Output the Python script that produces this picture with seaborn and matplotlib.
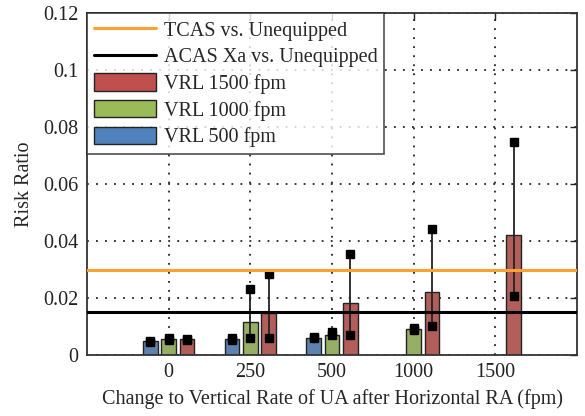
import numpy as np
import pandas as pd
import matplotlib
matplotlib.use("Agg")
import matplotlib.pyplot as plt
import seaborn as sns
from matplotlib.lines import Line2D
from matplotlib.patches import Patch
from matplotlib.ticker import FuncFormatter

# ---- data ----
categories = ["0", "250", "500", "1000", "1500"]
series = ["VRL 500 fpm", "VRL 1000 fpm", "VRL 1500 fpm"]

vrl500 = [0.0050, 0.0055, 0.0060, np.nan, np.nan]
vrl500_lo = [0.0045, 0.0053, 0.0058, np.nan, np.nan]
vrl500_hi = [0.0050, 0.0058, 0.0063, np.nan, np.nan]

vrl1000 = [0.0056, 0.0116, 0.0070, 0.0090, np.nan]
vrl1000_lo = [0.0054, 0.0061, 0.0069, 0.0088, np.nan]
vrl1000_hi = [0.0058, 0.0233, 0.0079, 0.0093, np.nan]

vrl1500 = [0.0055, 0.0146, 0.0181, 0.0222, 0.0420]
vrl1500_lo = [0.0053, 0.0061, 0.0070, 0.0101, 0.0207]
vrl1500_hi = [0.0057, 0.0284, 0.0355, 0.0442, 0.0746]

tcas_ratio = 0.030
acas_ratio = 0.015

colors = {"VRL 500 fpm": "#4F81BD", "VRL 1000 fpm": "#9BBB59", "VRL 1500 fpm": "#C0504D"}
tcas_color = "#FFA033"

rows = []
for name, vals, lo, hi in [
    ("VRL 500 fpm", vrl500, vrl500_lo, vrl500_hi),
    ("VRL 1000 fpm", vrl1000, vrl1000_lo, vrl1000_hi),
    ("VRL 1500 fpm", vrl1500, vrl1500_lo, vrl1500_hi),
]:
    for c, v, l, h in zip(categories, vals, lo, hi):
        rows.append({"cat": c, "series": name, "val": v, "lo": l, "hi": h})
df = pd.DataFrame(rows).dropna().reset_index(drop=True)

# ---- style ----
sns.set_theme(style="white")
plt.rcParams["font.family"] = ["Liberation Serif", "DejaVu Serif"]

FS = 14.5

fig = plt.figure(figsize=(5.85, 4.16), dpi=100)
ax = fig.add_axes([87 / 585, 1 - 355 / 416, (577 - 87) / 585, (355 - 13) / 416])

sns.barplot(data=df, x="cat", y="val", hue="series", order=categories,
            hue_order=series, palette=colors, width=0.675, gap=0.2,
            edgecolor="#222222", linewidth=1.0, errorbar=None, legend=False,
            ax=ax, zorder=2)

# error bars from the drawn bar positions
for name, cont in zip(series, ax.containers):
    sub = df[df["series"] == name]
    for bar in cont:
        xc = bar.get_x() + bar.get_width() / 2
        cat = categories[int(round(xc))]
        r = sub[sub["cat"] == cat]
        if r.empty:
            continue
        lo, hi = float(r["lo"].iloc[0]), float(r["hi"].iloc[0])
        ax.plot([xc, xc], [lo, hi], color="#222222", lw=1.3, marker="s",
                markersize=5.5, markeredgecolor="black", markerfacecolor="black",
                zorder=4)

ax.axhline(tcas_ratio, color=tcas_color, lw=2.2, zorder=5)
ax.axhline(acas_ratio, color="black", lw=2.2, zorder=5)

ax.set_xlim(-1, 5)
ax.set_ylim(0, 0.12)
ax.set_yticks(np.arange(0, 0.1201, 0.02))
ax.yaxis.set_major_formatter(FuncFormatter(lambda v, p: "0" if abs(v) < 1e-12 else f"{v:g}"))

ax.set_axisbelow(True)
ax.grid(True, color="#222222", linestyle=(0, (1, 4)), linewidth=1.3)

for s in ax.spines.values():
    s.set_color("#333333")
    s.set_linewidth(1.3)

ax.tick_params(direction="in", top=True, right=True, length=5, width=1.0,
               labelsize=FS, colors="#222222", pad=6)
ax.set_xlabel("Change to Vertical Rate of UA after Horizontal RA (fpm)", fontsize=FS, labelpad=5)
ax.set_ylabel("Risk Ratio", fontsize=FS, labelpad=7)

handles = [
    Line2D([], [], color=tcas_color, lw=2.2),
    Line2D([], [], color="black", lw=2.2),
    Patch(facecolor=colors["VRL 1500 fpm"], edgecolor="#222222", lw=1.0),
    Patch(facecolor=colors["VRL 1000 fpm"], edgecolor="#222222", lw=1.0),
    Patch(facecolor=colors["VRL 500 fpm"], edgecolor="#222222", lw=1.0),
]
labels = ["TCAS vs. Unequipped", "ACAS Xa vs. Unequipped",
          "VRL 1500 fpm", "VRL 1000 fpm", "VRL 500 fpm"]
leg = ax.legend(handles, labels, loc="upper left", bbox_to_anchor=(0, 1),
                borderaxespad=0, fontsize=FS, frameon=True, fancybox=False,
                handlelength=3.1, handleheight=0.95, labelspacing=0.3,
                handletextpad=0.35, borderpad=0.35)
leg.get_frame().set_edgecolor("#222222")
leg.get_frame().set_linewidth(1.2)
leg.set_zorder(10)

fig.savefig("out.png", dpi=100)
